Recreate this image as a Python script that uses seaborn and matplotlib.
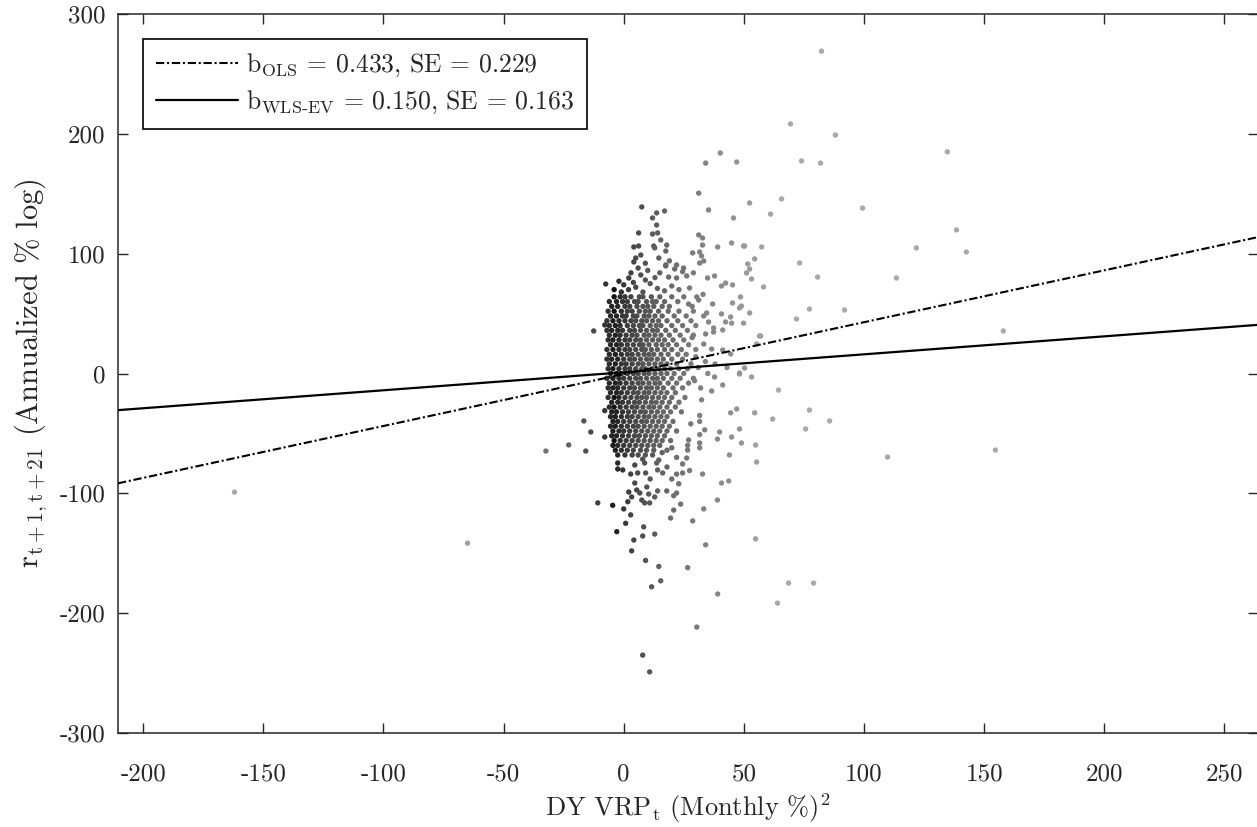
import numpy as np
import pandas as pd
import matplotlib
matplotlib.use('Agg')
import matplotlib.pyplot as plt
import seaborn as sns
from matplotlib.colors import LinearSegmentedColormap

# ============================================
# DATA
# ============================================

# regression lines shown in the legend
ols_slope, ols_se, ols_icpt = 0.433, 0.229, -0.5
wls_slope, wls_se, wls_icpt = 0.150, 0.163, 1.0

x_limits = (-210.5, 264)
y_limits = (-300, 300)
x_ticks = [-200, -150, -100, -50, 0, 50, 100, 150, 200, 250]
y_ticks = [-300, -200, -100, 0, 100, 200, 300]

# dense core of the cloud: return level -> DY VRP values on that level
core_rows = {
    64: [-4, -1.5, 0.5, 3, 6.5, 8, 11.5, 15, 20, 25],
    60: [-6, -3, -0.5, 1.5, 4.5, 6, 9.5, 12, 13.5, 17, 22.5],
    56: [-5, -2.5, 0.5, 2.5, 5.5, 8, 10, 12.5, 16, 19, 28.5],
    52: [-6.5, -4, -1, 1.5, 3.5, 6.5, 9, 11, 14.5, 18.5, 23],
    48: [-5.5, -3, -0.5, 1, 4, 5.5, 8.5, 10.5, 13, 16, 21, 26],
    44: [-7, -4.5, -2, 0.5, 3, 5, 7.5, 9.5, 12, 14.5, 18, 22.5, 28],
    40: [-6, -3.5, -1.5, 1.5, 4, 6.5, 8, 11, 13.5, 15.5, 20, 24.5],
    36: [-7, -5, -2.5, -0.5, 2.5, 4.5, 7, 9.5, 12, 14, 17.5, 21.5, 26.5],
    32: [-6, -3.5, -1.5, 1, 3.5, 5.5, 8.5, 10.5, 13, 15.5, 19, 23.5, 29],
    28: [-6.5, -4.5, -2, 0.5, 2.5, 5, 7, 9.5, 12, 14.5, 17, 20.5, 25],
    24: [-5.5, -3, -1, 1.5, 4, 6.5, 8, 10.5, 13.5, 16, 18.5, 22, 27],
    20: [-7, -4.5, -2, 0.5, 2.5, 5, 7.5, 9, 11.5, 14, 17, 20, 24, 30],
    16: [-6, -3.5, -1, 1.5, 3.5, 6, 8.5, 10.5, 12.5, 15.5, 18.5, 22.5, 26],
    12: [-7, -5, -2.5, 0, 2.5, 4.5, 7, 9.5, 11.5, 14, 16.5, 20, 24.5],
    8: [-6, -3.5, -1, 1, 3.5, 6, 8, 10.5, 13, 15.5, 18, 22, 28],
    4: [-6.5, -4.5, -2, 0.5, 2.5, 5, 7.5, 9, 12, 14.5, 17, 19.5, 23, 26.5],
    0: [-5.5, -3, -1, 1.5, 4, 6, 8.5, 10.5, 13, 15.5, 18, 21, 25],
    -4: [-7, -4.5, -2, 0, 2.5, 5, 7, 9.5, 12, 14, 16.5, 20, 23.5, 29],
    -8: [-6, -3.5, -1.5, 1, 3.5, 6, 8, 10.5, 13, 15, 18.5, 22, 27],
    -12: [-6.5, -4.5, -2.5, 0, 2.5, 4.5, 7, 9.5, 11.5, 14, 16.5, 20.5, 24.5],
    -16: [-5.5, -3, -1, 1.5, 4, 6, 8.5, 10.5, 13, 15.5, 18, 21.5],
    -20: [-6.5, -4, -2, 0.5, 3, 5.5, 7.5, 9.5, 12, 14.5, 17, 20, 25.5],
    -24: [-5, -2.5, -0.5, 2, 4.5, 6.5, 9, 11.5, 13.5, 16, 19, 23],
    -28: [-6, -4, -1.5, 1, 3.5, 5.5, 8, 10.5, 12.5, 15, 18, 21.5],
    -32: [-5, -3, -0.5, 2, 4.5, 7, 9, 11.5, 14, 16.5, 19.5, 24],
    -36: [-5.5, -3.5, -1, 1.5, 3.5, 6, 8.5, 10.5, 13, 15.5, 18],
    -40: [-4.5, -2.5, 0, 2.5, 5, 7.5, 9.5, 12, 14.5, 17, 20.5],
    -44: [-5.5, -3.5, -1, 1.5, 4, 6, 8.5, 11, 13.5, 16, 19],
    -48: [-4.5, -2, 0, 2.5, 5, 7.5, 10, 12.5, 15, 18, 22],
    -52: [-5, -3, -0.5, 2, 4.5, 6.5, 9, 11.5, 14, 17],
    -56: [-4, -1.5, 1, 3.5, 6, 8.5, 11, 13.5, 16, 19.5],
    -60: [-4.5, -2.5, 0, 2.5, 5, 7.5, 10, 12.5, 15],
    -64: [-3.5, -1, 1.5, 4, 7, 9.5, 12.5, 18],
    -68: [-2.5, 0.5, 3.5, 6, 9, 12],
}

# fringe just above the core
upper_fringe = [
    (-2, 77), (2.1, 79.7), (7.1, 82.2), (17.5, 89.7), (21.2, 87.2), (24.5, 85),
    (18.7, 80.5), (22, 79.7), (26.2, 81.4), (27.4, 71.4), (2, 70), (5, 72),
    (8, 68), (11, 75), (14, 71), (17, 69), (20, 73), (23, 70), (0, 74), (4, 76),
    (9, 78), (13, 80), (15, 84), (10, 86), (6, 88), (-4, 70), (-1, 68), (29, 84),
    (3, 84), (19, 94), (9, 92),
]

# upper plume above the core
upper_plume = [
    (40.2, 184), (34.1, 175.6), (47, 176.5), (31.2, 150.5), (35.3, 136.5),
    (45.7, 129.8), (7.5, 139), (13.7, 134), (17, 135.6), (12, 129.8),
    (13.7, 123.9), (6.2, 117.3), (12, 116.4), (14.1, 117.3), (15.4, 111.4),
    (4.2, 105.6), (6.2, 106.4), (12.5, 106.4), (12.9, 104.8), (17.9, 107.2),
    (17.5, 102.2), (7.1, 98.9), (5, 96.4), (14.6, 96.4), (4.2, 93.1),
    (31.2, 115.6), (32.8, 113.1), (32.8, 107.2), (39.1, 105.6), (44.9, 108.9),
    (49.9, 106.4), (28.7, 100.6), (31.6, 101.4), (32.4, 98.1), (33.3, 93.9),
    (31.6, 92.2), (17.5, 90.6), (22, 90.6), (24.9, 88),
]

# right side of the core, positive returns
mid_right = [
    (34.9, 79.7), (37.8, 81.4), (42.4, 75.5), (45.3, 73.9), (40.7, 73),
    (30.4, 63.9), (31.2, 61.3), (45.3, 58.8), (48.2, 54.7), (37, 58),
    (34.5, 50.5), (33.3, 48), (40.7, 49.7), (44.5, 47.2), (44.9, 42),
    (37.4, 38), (41.2, 36.3), (34.1, 33), (37.4, 34.6), (42.4, 43),
    (33.3, 24.6), (36.6, 20.4), (41.2, 19.6), (44.5, 16.3), (56.5, 31.3),
    (48.2, 0.4), (31, 5), (34, 10), (30, 14), (38, 8), (43, 5), (35.3, 43),
    (28.5, 30), (30, 40), (29, 52), (33, 66), (27, 58), (32, -12), (35, 0),
]

# right side of the core, negative returns
mid_right_neg = [
    (31.6, -35), (31.6, -40), (33.7, -47), (31.6, -51), (31.6, -58),
    (31.6, -62), (27.9, -42), (27, -55.5), (26.6, -60), (32.4, -22),
    (36.6, -14.6), (41.2, -9.6), (37.8, -2.9), (48.2, -0.4), (53.2, -2.9),
    (29.5, -6), (39, -54.7), (39.9, -48.8), (44.9, -53), (49, -58),
    (54.9, -59.7), (55.3, -73.9), (44, -68), (48.2, -46.3), (47, -29.6),
    (44.5, -32.8), (54.5, -32.8), (62, -38), (64.4, -13.8), (77.3, -30.5),
    (85.7, -39.6), (75.7, -46.3), (109.8, -69.7), (154.7, -63.9),
    (24.5, -75.5), (26.2, -70.5), (26.6, -63.9), (24.5, -83),
]

# pocket below the core
lower_pocket = [
    (-2.5, -74.7), (-2.5, -79.7), (-0.4, -80.5), (2.9, -83.9), (4.6, -76.4),
    (5.8, -83), (9.1, -83), (14.1, -80.5), (16.2, -83), (13.7, -74.7),
    (14.6, -72.2), (8.7, -74.7), (7.9, -71.5), (4.6, -91.4), (2.1, -98.9),
    (3.3, -103), (5.4, -97.2), (6.7, -99.7), (9.6, -94.7), (10.4, -100.6),
    (7.5, -105.6), (8.7, -108), (10.8, -108), (12.9, -103), (14.1, -98),
    (17.9, -98), (22, -99.7), (20.8, -102), (1.7, -107), (20, -88), (18, -78),
    (11, -88), (22, -84), (16, -66), (20, -62), (22, -70),
]

# sparse points far from the core
left_tail = [
    (-162, -99), (-65, -141.6), (-32.4, -64.7), (-22.9, -59.6), (-15.8, -64.7),
    (-16.6, -39.6), (-13.7, -48.8), (-7.9, -53), (-7.9, -31), (-12.5, 35.5),
    (-7.9, 40.5), (-7.5, 74.7), (-10.8, -108), (-4.6, -110),
]

bottom_tail = [
    (-2.9, -132), (0, -113), (0.8, -125), (2.9, -118), (3.3, -148), (4.2, -139),
    (7.9, -135.6), (12.9, -134), (8.3, -128), (9.1, -156), (14.6, -161),
    (11.6, -178), (15.4, -173), (7.9, -235), (10.8, -249), (30.4, -211.6),
    (26.6, -162), (39.1, -184), (34.1, -143), (54.9, -138), (64, -191.6),
    (19.5, -120.6), (20.8, -114), (23.7, -109), (28.7, -123), (33.3, -113),
    (39, -105.6), (40.7, -91.4), (43.7, -89.7), (22.9, -92), (27.4, -81),
    (32.8, -83.9), (68.6, -174.9), (79, -174.9),
]

right_tail = [
    (82.3, 269), (69.4, 208.3), (88.1, 199), (74, 177.4), (81.9, 175.6),
    (134.7, 185), (52.4, 142.3), (65.7, 145.7), (61.1, 133), (99.4, 138),
    (138.5, 119.8), (121.8, 104.8), (142.6, 101.4), (50.3, 106.4),
    (57.4, 105.6), (54.5, 95.6), (51.6, 91.4), (51.1, 83.9), (52.4, 87.2),
    (53.2, 78.9), (73.2, 92.2), (80.7, 80.5), (113.5, 79.7), (58.2, 72.2),
    (48.6, 63.9), (49, 56.3), (52.4, 50.5), (77.3, 53.8), (91.9, 53),
    (71.9, 45.5), (49.9, 42), (57, 31.3), (55.3, 24.6), (158, 35.5),
    (50.3, 4.6),
]

# ============================================
# BUILD TABLE
# ============================================

core_pts = [(x, y) for y, xs in core_rows.items() for x in xs]
all_pts = (core_pts + upper_fringe + upper_plume + mid_right + mid_right_neg
           + lower_pocket + left_tail + bottom_tail + right_tail)
df = pd.DataFrame(all_pts, columns=['vrp', 'ret'])
# grey level grows with distance from the darkest column of the cloud
df['shade'] = np.sqrt((df['vrp'] + 4).abs())

# ============================================
# PLOT
# ============================================

sns.set_theme(style='white')
plt.rcParams['font.family'] = 'serif'
plt.rcParams['font.serif'] = ['cmr10', 'DejaVu Serif']
plt.rcParams['mathtext.fontset'] = 'cm'
plt.rcParams['axes.unicode_minus'] = False

ink = '#262626'
fig = plt.figure(figsize=(12.57, 8.27), dpi=100)
ax = fig.add_axes([118 / 1257, 94 / 827, 1140 / 1257, 719 / 827])

gray_cmap = LinearSegmentedColormap.from_list('vrp_gray', ['#111111', '#a9a9a9'])
sns.scatterplot(data=df, x='vrp', y='ret', hue='shade', palette=gray_cmap,
                hue_norm=(0, 8.3), s=15, linewidth=0, legend=False,
                ax=ax, zorder=2)

xs = np.array(x_limits)
ax.plot(xs, ols_icpt + ols_slope * xs, color='black', lw=1.5,
        dashes=(4, 1.3, 1, 1.3), zorder=3,
        label=rf'b$_{{\mathrm{{OLS}}}}$ = {ols_slope:.3f}, SE = {ols_se:.3f}')
ax.plot(xs, wls_icpt + wls_slope * xs, color='black', lw=1.6, zorder=3,
        label=rf'b$_{{\mathrm{{WLS\text{{-}}EV}}}}$ = {wls_slope:.3f}, SE = {wls_se:.3f}')

ax.set_xlim(x_limits)
ax.set_ylim(y_limits)
ax.set_xticks(x_ticks, labels=[str(t) for t in x_ticks])
ax.set_yticks(y_ticks, labels=[str(t) for t in y_ticks])
ax.tick_params(direction='in', length=7.5, width=1, colors=ink, labelsize=18,
               top=True, right=True, bottom=True, left=True)
ax.tick_params(axis='x', pad=22)
ax.tick_params(axis='y', pad=9)
for sp in ax.spines.values():
    sp.set_visible(True)
    sp.set_color(ink)
    sp.set_linewidth(1.1)

ax.set_xlabel(r'DY VRP$_{\mathrm{t}}$ (Monthly %)$^{2}$', fontsize=19,
              color=ink, labelpad=4)
ax.set_ylabel(r'r$_{\mathrm{t+1,t+21}}$ (Annualized % log)', fontsize=22,
              color=ink, labelpad=7)

leg = ax.legend(loc='upper left', bbox_to_anchor=(0.0219, 0.965),
                borderaxespad=0, fontsize=18.5, frameon=True, fancybox=False,
                framealpha=1, edgecolor='black', handlelength=3.2,
                handletextpad=0.3, borderpad=0.5, labelspacing=0.35)
leg.get_frame().set_linewidth(1.2)

fig.savefig('out.png', dpi=100)
